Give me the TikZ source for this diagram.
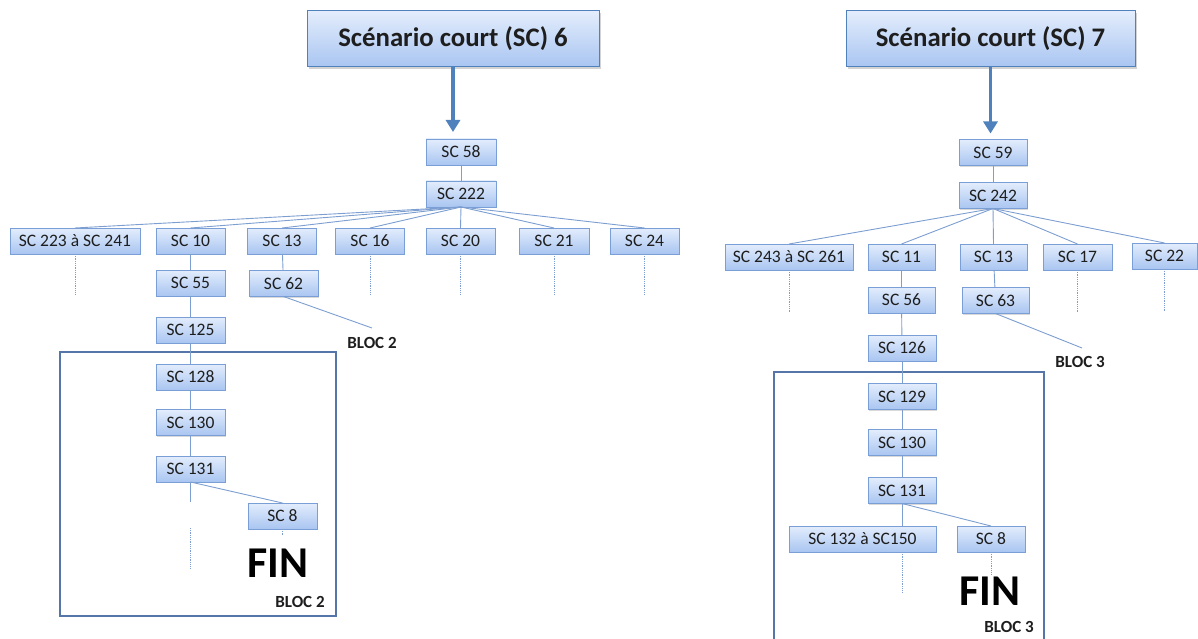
\documentclass[tikz,border=0pt]{standalone}
\usepackage{fontspec}
\setmainfont{Carlito}
\usetikzlibrary{shadows,arrows.meta}
\definecolor{boxtop}{HTML}{E3EDFC}
\definecolor{boxbot}{HTML}{A9C5F1}
\definecolor{boxborder}{HTML}{7A9FD6}
\definecolor{conn}{HTML}{7C9ED0}
\definecolor{arrowc}{HTML}{4F81BD}
\definecolor{blocc}{HTML}{5676AA}
\definecolor{txt}{HTML}{1E1E1E}
\begin{document}
\begin{tikzpicture}[x=1pt,y=-1pt,
  sc/.style={draw=boxborder, line width=0.9pt, top color=boxtop, bottom color=boxbot,
    minimum height=26pt, inner sep=0pt, outer sep=0pt, text=txt,
    font=\fontsize{17.5}{19}\selectfont,
    drop shadow={shadow xshift=0.8pt, shadow yshift=-1.2pt, opacity=0.3}},
  title/.style={draw=arrowc, line width=1pt, top color=boxtop, bottom color=boxbot,
    minimum height=56pt, inner sep=0pt, outer sep=0pt, text=txt,
    font=\fontsize{26.8}{30}\selectfont\bfseries,
    drop shadow={shadow xshift=1.5pt, shadow yshift=-2pt, opacity=0.35}},
  link/.style={draw=conn, line width=0.9pt},
  dots/.style={draw=conn, line width=0.8pt, densely dotted},
  bigarrow/.style={draw=arrowc, line width=3.5pt, -{Triangle[width=14pt,length=12pt]}},
  blocbox/.style={draw=blocc, line width=1.2pt},
  fin/.style={font=\fontsize{44}{48}\selectfont\bfseries, inner sep=0pt, text=black},
  bloclabel/.style={font=\fontsize{17}{20}\selectfont\bfseries, inner sep=0pt, text=txt},
]
\useasboundingbox (0,0) rectangle (1198,639);

% ---------------- left tree ----------------
\node[title, minimum width=292pt] (t6) at (453,39) {Scénario court (SC) 6};
\node[sc, minimum width=70pt] (s58) at (461,152) {SC 58};
\node[sc, minimum width=70pt] (s222) at (461,194) {SC 222};
\node[sc, minimum width=130pt] (s223) at (75,241) {SC 223 à SC 241};
\node[sc, minimum width=69pt] (s10) at (190.5,241) {SC 10};
\node[sc, minimum width=69pt] (s13) at (282,241) {SC 13};
\node[sc, minimum width=69pt] (s16) at (370,241) {SC 16};
\node[sc, minimum width=69pt] (s20) at (460.5,241) {SC 20};
\node[sc, minimum width=70pt] (s21) at (554,241) {SC 21};
\node[sc, minimum width=69pt] (s24) at (644.5,241) {SC 24};
\node[sc, minimum width=69pt] (s55) at (190.5,283) {SC 55};
\node[sc, minimum width=69pt] (s62) at (283.5,283.5) {SC 62};
\node[sc, minimum width=69pt] (s125) at (190.5,330) {SC 125};
\node[sc, minimum width=69pt] (s128) at (190.5,377) {SC 128};
\node[sc, minimum width=69pt] (s130) at (190.5,422.5) {SC 130};
\node[sc, minimum width=69pt] (s131) at (190.5,469) {SC 131};
\node[sc, minimum width=69pt] (s8l) at (282.5,516) {SC 8};
\node[fin] (finl) at (278,563) {FIN};
\node[bloclabel] (b2a) at (300,602) {BLOC 2};
\node[bloclabel] (b2b) at (372,343) {BLOC 2};
\coordinate (b2end) at (372,328);
\draw[blocbox] (60,352) rectangle (336,616);

\draw[bigarrow] (t6.south) -- (t6.south |- s58.north) [shorten >=7pt];
\draw[link] (s58) -- (s222);
\foreach \n in {s223,s10,s13,s16,s20,s21,s24}
  \draw[link] (s222.south) -- (\n.north);
\foreach \n in {s223,s16,s20,s21,s24}
  \draw[dots] (\n.south) -- ++(0,40);
\draw[link] (s10) -- (s55);
\draw[link] (s13) -- (s62);
\draw[link] (s62.south) -- (b2end);
\draw[link] (s55) -- (s125);
\draw[link] (s125) -- (s128);
\draw[link] (s128) -- (s130);
\draw[link] (s130) -- (s131);
\draw[link] (s131.south) -- ++(0,20);
\draw[dots] ([yshift=-46pt]s131.south) -- ++(0,40);
\draw[link] (s131.south) -- (s8l.north);
\draw[dots] (s8l.south) -- ++(0,6);

% ---------------- right tree ----------------
\node[title, minimum width=289pt] (t7) at (990.5,39) {Scénario court (SC) 7};
\node[sc, minimum width=68pt] (s59) at (993,152.5) {SC 59};
\node[sc, minimum width=68pt] (s242) at (993,195.5) {SC 242};
\node[sc, minimum width=128pt] (s243) at (789,257) {SC 243 à SC 261};
\node[sc, minimum width=67pt] (s11) at (901.5,257) {SC 11};
\node[sc, minimum width=67pt] (s13r) at (993.5,257) {SC 13};
\node[sc, minimum width=69pt] (s17) at (1077.5,257) {SC 17};
\node[sc, minimum width=65pt] (s22) at (1164.5,256) {SC 22};
\node[sc, minimum width=67pt] (s56) at (901.5,300) {SC 56};
\node[sc, minimum width=67pt] (s63) at (995.5,300.5) {SC 63};
\node[sc, minimum width=68pt] (s126) at (902,348) {SC 126};
\node[sc, minimum width=68pt] (s129) at (902,396.5) {SC 129};
\node[sc, minimum width=68pt] (s130r) at (902,442.5) {SC 130};
\node[sc, minimum width=68pt] (s131r) at (902,490.5) {SC 131};
\node[sc, minimum width=147pt] (s132) at (862.5,539) {SC 132 à SC150};
\node[sc, minimum width=68pt] (s8r) at (991,539) {SC 8};
\node[fin] (finr) at (990,591) {FIN};
\node[bloclabel] (b3a) at (1009,627) {BLOC 3};
\node[bloclabel] (b3b) at (1080,362) {BLOC 3};
\coordinate (b3end) at (1082,348);
\draw[blocbox] (774,639) -- (774,372) -- (1044,372) -- (1044,639);

\draw[bigarrow] (t7.south) -- (t7.south |- s59.north) [shorten >=6pt];
\draw[link] (s59) -- (s242);
\foreach \n in {s243,s11,s13r,s17,s22}
  \draw[link] (s242.south) -- (\n.north);
\foreach \n in {s243,s17,s22}
  \draw[dots] (\n.south) -- ++(0,42);
\draw[link] (s11) -- (s56);
\draw[link] (s13r) -- (s63);
\draw[link] (s63.south) -- (b3end);
\draw[link] (s56) -- (s126);
\draw[link] (s126) -- (s129);
\draw[link] (s129) -- (s130r);
\draw[link] (s130r) -- (s131r);
\draw[link] (s131r.south) -- (s131r.south |- s132.north);
\draw[link] (s131r.south) -- (s8r.north);
\draw[dots] (s131r.south |- s132.south) -- ++(0,41);
\draw[dots] (s8r.south) -- ++(0,23);
\end{tikzpicture}
\end{document}
